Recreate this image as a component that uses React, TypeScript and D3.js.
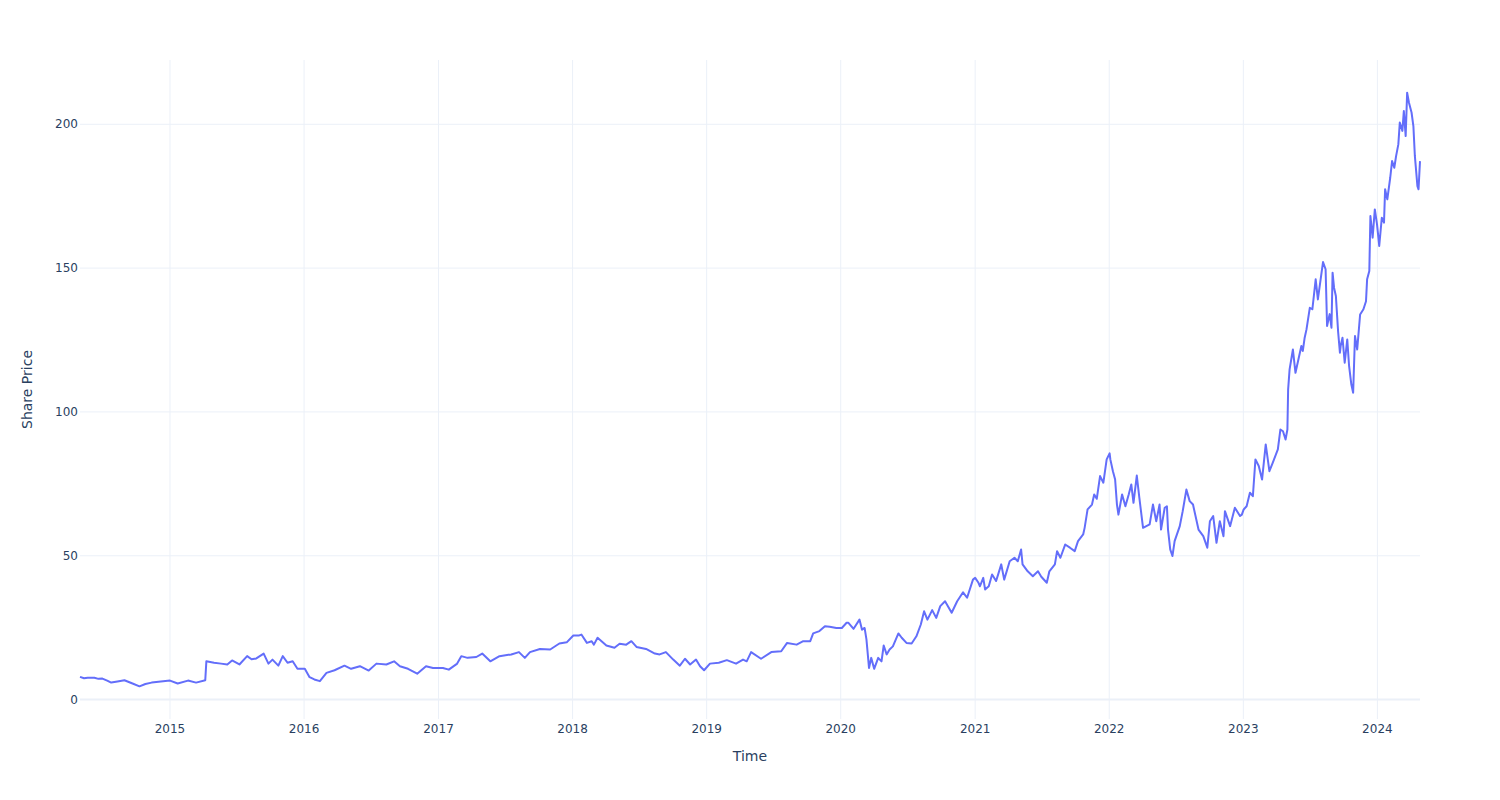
import React from "react";
import * as d3 from "d3";

const dates: string[] = [
  "2014-05-01","2014-05-12","2014-05-22","2014-06-09","2014-06-20","2014-07-01","2014-07-14","2014-07-25","2014-08-11","2014-08-30",
  "2014-09-21","2014-10-10","2014-10-26","2014-11-12","2014-12-07","2015-01-01","2015-01-22","2015-02-19","2015-03-13","2015-04-07",
  "2015-04-10","2015-05-01","2015-05-20","2015-06-06","2015-06-19","2015-07-09","2015-07-30","2015-08-11","2015-08-24","2015-09-13",
  "2015-09-26","2015-10-07","2015-10-23","2015-11-04","2015-11-17","2015-12-01","2015-12-14","2016-01-03","2016-01-16","2016-01-29",
  "2016-02-13","2016-03-02","2016-03-24","2016-04-20","2016-05-08","2016-06-01","2016-06-25","2016-07-16","2016-08-12","2016-09-02",
  "2016-09-18","2016-10-10","2016-11-04","2016-11-28","2016-12-17","2017-01-13","2017-01-29","2017-02-20","2017-03-04","2017-03-21",
  "2017-04-14","2017-04-30","2017-05-22","2017-06-16","2017-07-18","2017-08-08","2017-08-24","2017-09-07","2017-10-04","2017-11-01",
  "2017-11-26","2017-12-16","2018-01-03","2018-01-19","2018-01-25","2018-02-09","2018-02-22","2018-02-28","2018-03-10","2018-04-03",
  "2018-04-25","2018-05-09","2018-05-27","2018-06-10","2018-06-24","2018-07-20","2018-08-13","2018-08-26","2018-09-12","2018-10-02",
  "2018-10-20","2018-11-03","2018-11-17","2018-12-03","2018-12-14","2018-12-25","2019-01-10","2019-02-03","2019-02-25","2019-03-22",
  "2019-04-10","2019-04-20","2019-05-02","2019-05-29","2019-06-26","2019-07-23","2019-08-08","2019-09-03","2019-09-21","2019-10-10",
  "2019-10-18","2019-11-04","2019-11-19","2019-12-02","2019-12-20","2020-01-04","2020-01-17","2020-01-22","2020-02-05","2020-02-21",
  "2020-02-28","2020-03-06","2020-03-11","2020-03-18","2020-03-24","2020-04-01","2020-04-12","2020-04-21","2020-04-27","2020-05-05",
  "2020-05-13","2020-05-22","2020-06-06","2020-06-15","2020-06-28","2020-07-12","2020-07-25","2020-08-06","2020-08-15","2020-08-24",
  "2020-09-06","2020-09-17","2020-09-28","2020-10-11","2020-10-29","2020-11-13","2020-11-29","2020-12-10","2020-12-26","2021-01-01",
  "2021-01-10","2021-01-14","2021-01-23","2021-01-28","2021-02-07","2021-02-16","2021-02-27","2021-03-13","2021-03-21","2021-04-05",
  "2021-04-18","2021-04-27","2021-05-06","2021-05-10","2021-05-24","2021-06-07","2021-06-21","2021-06-30","2021-07-15","2021-07-22",
  "2021-08-06","2021-08-12","2021-08-21","2021-09-03","2021-09-16","2021-09-29","2021-10-08","2021-10-22","2021-10-26","2021-11-03",
  "2021-11-15","2021-11-21","2021-11-28","2021-12-07","2021-12-16","2021-12-25","2022-01-02","2022-01-04","2022-01-11","2022-01-17",
  "2022-01-22","2022-01-26","2022-02-05","2022-02-14","2022-02-23","2022-03-02","2022-03-08","2022-03-17","2022-03-24","2022-04-03",
  "2022-04-21","2022-04-30","2022-05-09","2022-05-18","2022-05-22","2022-06-01","2022-06-07","2022-06-10","2022-06-16","2022-06-22",
  "2022-06-28","2022-07-12","2022-07-20","2022-07-30","2022-08-08","2022-08-17","2022-09-01","2022-09-14","2022-09-25","2022-10-02",
  "2022-10-11","2022-10-20","2022-10-29","2022-11-08","2022-11-12","2022-11-26","2022-12-09","2022-12-23","2022-12-28","2023-01-02",
  "2023-01-10","2023-01-19","2023-01-27","2023-02-03","2023-02-12","2023-02-21","2023-03-03","2023-03-13","2023-03-22","2023-04-05",
  "2023-04-12","2023-04-19","2023-04-26","2023-05-01","2023-05-03","2023-05-07","2023-05-16","2023-05-23","2023-05-29","2023-06-08",
  "2023-06-12","2023-06-17","2023-06-22","2023-07-01","2023-07-08","2023-07-17","2023-07-23","2023-08-02","2023-08-06","2023-08-13",
  "2023-08-17","2023-08-24","2023-08-29","2023-09-01","2023-09-05","2023-09-10","2023-09-16","2023-09-21","2023-09-23","2023-09-28",
  "2023-10-04","2023-10-11","2023-10-16","2023-10-22","2023-10-27","2023-11-01","2023-11-07","2023-11-15","2023-11-24","2023-12-01",
  "2023-12-04","2023-12-10","2023-12-13","2023-12-19","2023-12-25","2023-12-31","2024-01-06","2024-01-13","2024-01-19","2024-01-22",
  "2024-01-28","2024-02-05","2024-02-10","2024-02-16","2024-02-21","2024-02-27","2024-03-02","2024-03-09","2024-03-13","2024-03-18",
  "2024-03-22","2024-03-27","2024-04-03","2024-04-08","2024-04-12","2024-04-19","2024-04-22","2024-04-26"
];

const prices: number[] = [
  7.9,7.4,7.6,7.6,7.2,7.3,6.6,5.9,6.3,6.7,
  5.6,4.6,5.4,5.9,6.3,6.6,5.6,6.6,5.9,6.7,
  13.3,12.8,12.5,12.2,13.6,12.2,15.1,14.0,14.3,16.0,
  12.5,13.9,11.8,15.1,12.8,13.3,10.7,10.7,7.8,7.0,
  6.4,9.3,10.2,11.8,10.7,11.6,10.1,12.5,12.2,13.3,
  11.6,10.7,9.0,11.6,11.0,11.0,10.4,12.4,15.1,14.5,
  14.8,16.0,13.3,15.1,15.7,16.5,14.5,16.5,17.6,17.4,
  19.5,19.9,22.3,22.3,22.6,19.7,20.3,19.1,21.5,18.8,
  18.0,19.4,19.1,20.3,18.3,17.6,16.0,15.7,16.5,13.9,
  11.8,14.2,12.2,13.9,11.6,10.2,12.5,12.8,13.7,12.5,
  13.9,13.3,16.5,14.2,16.5,16.8,19.7,19.1,20.3,20.3,
  23.0,23.8,25.5,25.3,24.9,24.9,26.7,26.7,24.6,27.8,
  24.3,24.9,20.9,11.0,14.5,10.7,14.5,13.3,18.8,15.7,
  17.4,18.5,23.0,21.5,19.7,19.5,22.0,26.1,30.7,27.8,
  31.1,28.4,32.5,34.2,30.2,34.2,37.3,35.4,41.7,42.3,
  40.6,39.4,42.3,38.3,39.4,43.5,41.2,47.0,41.7,48.1,
  49.3,48.1,52.2,47.0,44.6,42.9,44.6,42.7,40.6,44.6,
  47.0,51.6,49.3,53.9,52.8,51.6,55.1,57.4,59.7,66.1,
  67.8,71.3,69.8,77.7,75.4,83.5,85.6,83.5,79.4,76.5,
  67.8,64.3,71.3,67.2,71.3,74.8,68.4,77.9,70.1,59.7,
  60.9,67.8,62.0,67.8,59.1,66.7,67.2,59.1,52.2,49.9,
  55.1,60.3,65.5,73.0,69.0,67.8,59.1,56.8,52.8,62.0,
  63.8,54.5,62.0,56.8,65.5,60.3,66.7,63.8,64.3,66.1,
  67.2,71.9,70.7,83.5,81.2,76.5,88.7,79.4,82.3,87.0,
  93.9,93.3,90.4,93.9,107.8,114.8,121.7,113.6,117.1,122.9,
  121.2,125.8,128.7,136.2,135.7,146.1,139.1,148.4,152.1,149.6,
  129.9,134.0,129.3,148.4,143.2,140.3,128.0,120.6,122.9,125.8,
  117.1,125.2,115.9,109.6,106.7,126.4,121.7,133.9,135.7,138.5,
  146.1,149.0,168.1,160.6,170.4,165.2,157.7,167.5,165.8,177.4,
  173.9,181.5,187.2,184.9,189.0,193.0,200.6,197.7,204.6,195.9,
  211.0,207.5,204.1,199.4,189.0,178.5,177.4,187.2
];

const yTickValues: number[] = [0, 50, 100, 150, 200];
const xTitle = "Time";
const yTitle = "Share Price";

const W = 1500;
const H = 800;
const M = { left: 80, right: 80, top: 60, bottom: 81 };
const FONT = "'DejaVu Sans', Verdana, sans-serif";
const TEXT = "#2a3f5f";
const GRID = "#EBF0F8";
const LINE = "#636efa";

export default function App() {
  const parse = d3.timeParse("%Y-%m-%d");
  const data = dates.map((d, i) => ({ date: parse(d) as Date, value: prices[i] }));

  const x = d3
    .scaleTime()
    .domain(d3.extent(data, (d) => d.date) as [Date, Date])
    .range([M.left, W - M.right]);

  const [lo, hi] = d3.extent(data, (d) => d.value) as [number, number];
  const pad = (hi - lo) * 0.055;
  const y = d3.scaleLinear().domain([lo - pad, hi + pad]).range([H - M.bottom, M.top]);

  const line = d3
    .line<{ date: Date; value: number }>()
    .x((d) => x(d.date))
    .y((d) => y(d.value));

  const xTicks = x.ticks(d3.timeYear.every(1) as any);
  const fmt = d3.timeFormat("%Y");

  return (
    <svg
      width={W}
      height={H}
      style={{ position: "absolute", left: 0, top: 0, background: "#fff" }}
      fontFamily={FONT}
    >
      <rect x={0} y={0} width={W} height={H} fill="#fff" />
      {/* vertical grid */}
      {xTicks.map((t, i) => (
        <line
          key={"vx" + i}
          x1={x(t)}
          x2={x(t)}
          y1={M.top}
          y2={H - M.bottom}
          stroke={GRID}
          strokeWidth={1}
        />
      ))}
      {/* horizontal grid */}
      {yTickValues.map((v, i) => (
        <line
          key={"hy" + i}
          x1={M.left}
          x2={W - M.right}
          y1={y(v)}
          y2={y(v)}
          stroke={GRID}
          strokeWidth={v === 0 ? 2 : 1}
        />
      ))}
      {/* line */}
      <path
        d={line(data) || ""}
        fill="none"
        stroke={LINE}
        strokeWidth={2}
        strokeLinejoin="round"
      />
      {/* y tick labels */}
      {yTickValues.map((v, i) => (
        <text
          key={"yl" + i}
          x={M.left - 2}
          y={y(v)}
          dy="0.35em"
          textAnchor="end"
          fontSize={12}
          fill={TEXT}
        >
          {v}
        </text>
      ))}
      {/* x tick labels */}
      {xTicks.map((t, i) => (
        <text
          key={"xl" + i}
          x={x(t)}
          y={H - M.bottom + 14}
          textAnchor="middle"
          fontSize={12}
          fill={TEXT}
        >
          {fmt(t)}
        </text>
      ))}
      {/* axis titles */}
      <text x={(M.left + W - M.right) / 2} y={761} textAnchor="middle" fontSize={14} fill={TEXT}>
        {xTitle}
      </text>
      <text
        transform={`translate(32, ${(M.top + H - M.bottom) / 2}) rotate(-90)`}
        textAnchor="middle"
        fontSize={14}
        fill={TEXT}
      >
        {yTitle}
      </text>
    </svg>
  );
}
